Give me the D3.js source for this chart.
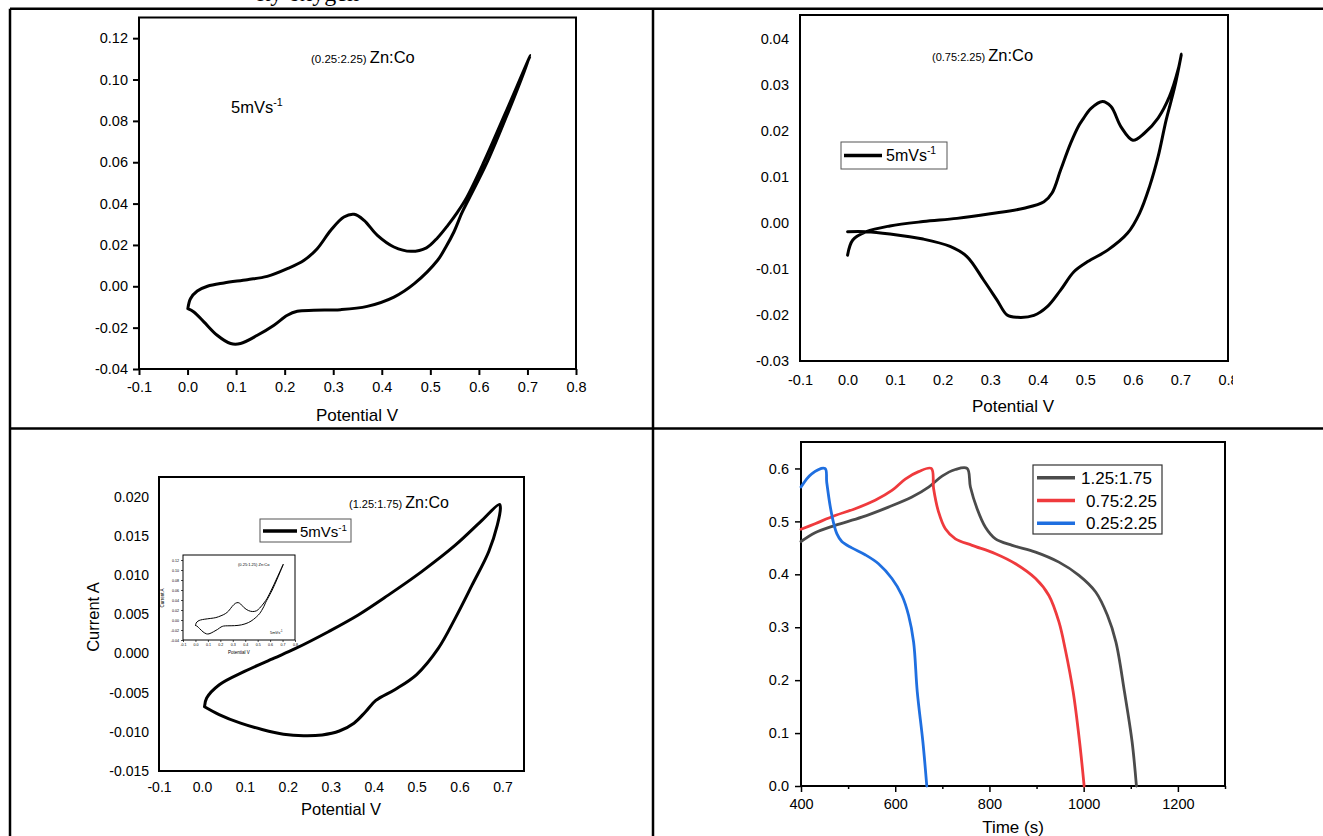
<!DOCTYPE html>
<html><head><meta charset="utf-8">
<script src="https://cdn.jsdelivr.net/npm/d3@7"></script>
<style>
html,body{margin:0;padding:0;background:#fff;}
svg{display:block;font-family:"Liberation Sans",Arial,sans-serif;}
</style></head>
<body>
<svg id="chart" width="1323" height="836"></svg>
<script>
// ---------- DATA ----------
// Top-left CV (0.25:2.25) Zn:Co
const tlPotential = [0.0006,0.006,0.020,0.041,0.075,0.123,0.164,0.2055,0.240,0.267,0.295,0.322,0.343,0.3635,0.391,0.425,0.46,0.492,0.515,0.536,0.556,0.575,0.61,0.655,0.706,
  0.66,0.617,0.58,0.565,0.549,0.532,0.515,0.467,0.425,0.370,0.315,0.260,0.226,0.2055,0.178,0.1437,0.109,0.0887,0.061,0.0336,0.013,0.0006];
const tlCurrent = [-0.0108,-0.006,-0.0023,0.0,0.0016,0.0032,0.0048,0.0085,0.0126,0.0182,0.0271,0.0335,0.0348,0.0319,0.0246,0.019,0.0169,0.0186,0.0235,0.0295,0.0359,0.0430,0.060,0.084,0.1116,
  0.084,0.060,0.0425,0.0355,0.0265,0.019,0.0126,0.0013,-0.0052,-0.0097,-0.0113,-0.0116,-0.0121,-0.014,-0.0188,-0.0237,-0.0277,-0.0277,-0.0237,-0.0172,-0.0124,-0.0108];
const tlXTicks = [-0.1,0.0,0.1,0.2,0.3,0.4,0.5,0.6,0.7,0.8];
const tlYTicks = [-0.04,-0.02,0.00,0.02,0.04,0.06,0.08,0.10,0.12];

// Top-right CV (0.75:2.25) Zn:Co
const trPotential = [0,0.011,0.0395,0.089,0.159,0.23,0.30,0.371,0.413,0.43,0.448,0.469,0.487,0.494,0.512,0.536,0.554,0.575,0.60,0.624,0.653,0.677,0.695,0.702,
  0.688,0.670,0.653,0.635,0.614,0.589,0.547,0.505,0.476,0.448,0.42,0.392,0.357,0.3355,0.314,0.286,0.251,0.2156,0.159,0.089,0.0395,0];
const trCurrent = [-0.007,-0.0037,-0.0019,-0.00065,0.0003,0.001,0.002,0.0032,0.0046,0.0065,0.0115,0.0173,0.0213,0.0224,0.0249,0.0264,0.0253,0.0209,0.018,0.0195,0.0228,0.0275,0.0333,0.0367,
  0.0296,0.0224,0.0144,0.0079,0.0021,-0.0022,-0.0059,-0.0084,-0.0106,-0.0146,-0.0182,-0.0201,-0.0205,-0.020,-0.0167,-0.0124,-0.0073,-0.0051,-0.0035,-0.0024,-0.0019,-0.0019];
const trXTicks = [-0.1,0.0,0.1,0.2,0.3,0.4,0.5,0.6,0.7,0.8];
const trYTicks = [-0.03,-0.02,-0.01,0.00,0.01,0.02,0.03,0.04];

// Bottom-left CV (1.25:1.75) Zn:Co
const blPotential = [0.006,0.011,0.0405,0.099,0.168,0.217,0.2955,0.364,0.433,0.511,0.59,0.649,0.693,
  0.695,0.688,0.668,0.629,0.59,0.55,0.50,0.45,0.405,0.38,0.354,0.32,0.28,0.2367,0.19,0.14,0.09,0.04,0.006];
const blCurrent = [-0.0068,-0.0057,-0.004,-0.0023,-0.0006,0.0006,0.0028,0.0049,0.0074,0.0104,0.0138,0.0168,0.019,
  0.0185,0.0164,0.013,0.0087,0.0045,0.0006,-0.0027,-0.0046,-0.0060,-0.0075,-0.0089,-0.0099,-0.0104,-0.0105,-0.0103,-0.0097,-0.0089,-0.0078,-0.0068];
const blXTicks = [-0.1,0.0,0.1,0.2,0.3,0.4,0.5,0.6,0.7];
const blYTicks = [-0.015,-0.010,-0.005,0.000,0.005,0.010,0.015,0.020];

// Bottom-right GCD
const gcdNames = ["1.25:1.75","0.75:2.25","0.25:2.25"];
const gcdColors = ["#4b4b4b","#ef3a3d","#1f6fe0"];
const gcdTime125 = [400,429.8,472.3,529.1,585.7,635.5,670.9,699.4,727.7,752.6,759.6,773.8,791.5,812.8,848.3,897.9,947.5,990,1025.5,1050.4,1068.5,1086.6,1102.8,1112];
const gcdVolt125 = [0.462,0.4787,0.4925,0.508,0.527,0.546,0.5647,0.5855,0.598,0.6,0.565,0.524,0.489,0.467,0.4547,0.442,0.423,0.398,0.3666,0.3226,0.272,0.178,0.0836,0];
const gcdTime075 = [400,429.8,472.3,514.9,557.4,593,621.3,649.6,676.6,681.5,692.1,706.4,727.7,763.2,812.8,855.3,897.9,926.2,947.5,961,977.7,991.3,1001];
const gcdVolt075 = [0.485,0.4956,0.511,0.524,0.54,0.5585,0.58,0.594,0.6,0.5617,0.5175,0.486,0.467,0.4547,0.439,0.42,0.392,0.36,0.31,0.258,0.178,0.0836,0];
const gcdTime025 = [400,422.7,451,454.6,461.7,468.7,476,486.6,507.9,536.2,564.5,593,614.3,628.3,639,646.8,658.7,667];
const gcdVolt025 = [0.565,0.59,0.6,0.574,0.53,0.4987,0.477,0.462,0.45,0.437,0.42,0.392,0.36,0.3226,0.272,0.178,0.0836,0];
const brXTicks = [400,600,800,1000,1200];
const brXMinor = [500,700,900,1100,1300];
const brYTicks = [0.0,0.1,0.2,0.3,0.4,0.5,0.6];

// ---------- DRAW ----------
const svg = d3.select("#chart");
const fmt = p => d => d3.format(p)(d).replace("\u2212","-");
const zip = (a,b) => a.map((v,i)=>[v,b[i]]);
const smooth = d3.curveCatmullRom.alpha(0.5);

// partial caption text at very top (only descenders visible, as in the reference)
svg.append("text").attr("x",257).attr("y",0.5).attr("font-family","Liberation Serif, Times New Roman, serif")
  .attr("font-size",24).text("ity oxygen");

// table lines
const tbl = svg.append("g").attr("stroke","#000").attr("stroke-width",2.5);
tbl.append("line").attr("x1",10).attr("x2",1323).attr("y1",8.7).attr("y2",8.7);
tbl.append("line").attr("x1",10).attr("x2",10).attr("y1",8.7).attr("y2",836);
tbl.append("line").attr("x1",653).attr("x2",653).attr("y1",8.7).attr("y2",836);
tbl.append("line").attr("x1",10).attr("x2",1323).attr("y1",428.5).attr("y2",428.5);

function panel(c){
  const g = svg.append("g");
  const x = d3.scaleLinear().domain(c.xDomain).range([c.left,c.right]);
  const y = d3.scaleLinear().domain(c.yDomain).range([c.bottom,c.top]);
  const ya = g.append("g").attr("transform",`translate(${c.left},0)`)
    .call(d3.axisLeft(y).tickValues(c.yTicks).tickFormat(c.yFmt).tickSize(c.tick).tickPadding(c.yPad));
  const xa = g.append("g").attr("transform",`translate(0,${c.bottom})`)
    .call(d3.axisBottom(x).tickValues(c.xTicks).tickFormat(c.xFmt).tickSize(c.tick).tickPadding(c.xPad));
  if (c.xMinor) {
    g.append("g").attr("transform",`translate(0,${c.bottom})`)
      .call(d3.axisBottom(x).tickValues(c.xMinor).tickFormat("").tickSize(c.minorTick))
      .call(s=>s.select(".domain").remove())
      .selectAll("line").attr("stroke","#000").attr("stroke-width",c.tickW);
  }
  [ya,xa].forEach(a=>{
    a.select(".domain").remove();
    a.selectAll("line").attr("stroke","#000").attr("stroke-width",c.tickW);
    a.selectAll("text").attr("font-size",c.fs).attr("fill","#000")
      .attr("font-family","Liberation Sans, Arial, sans-serif");
  });
  if (c.clipRight) {
    const id = "clip"+Math.round(c.left);
    svg.append("clipPath").attr("id",id).append("rect").attr("x",0).attr("y",0).attr("width",c.clipRight).attr("height",836);
    xa.attr("clip-path",`url(#${id})`);
  }
  g.append("rect").attr("x",c.left).attr("y",c.top).attr("width",c.right-c.left).attr("height",c.bottom-c.top)
    .attr("fill","none").attr("stroke","#000").attr("stroke-width",c.frameW);
  return {g,x,y};
}

function curve(p, xs, ys, color, w){
  p.g.append("path").datum(zip(xs,ys))
    .attr("d", d3.line().x(d=>p.x(d[0])).y(d=>p.y(d[1])).curve(smooth))
    .attr("fill","none").attr("stroke",color).attr("stroke-width",w)
    .attr("stroke-linejoin","round").attr("stroke-linecap","round");
}

function label(g, x, y, txt, fs, anchor){
  return g.append("text").attr("x",x).attr("y",y).attr("font-size",fs)
    .attr("text-anchor",anchor||"start").attr("fill","#000").text(txt);
}
function sup(g, x, y, base, s, fs){
  const t = g.append("text").attr("x",x).attr("y",y).attr("font-size",fs).attr("fill","#000");
  t.append("tspan").text(base);
  t.append("tspan").attr("font-size",fs*0.65).attr("dy",-fs*0.42).text(s);
  return t;
}

// ---- Top-left ----
const tl = panel({left:139,right:576,top:17.5,bottom:369,xDomain:[-0.1,0.8],yDomain:[-0.04,0.13],
  xTicks:tlXTicks,yTicks:tlYTicks,xFmt:fmt(".1f"),yFmt:fmt(".2f"),tick:6,tickW:2,yPad:5,xPad:7,fs:14.5,frameW:2});
curve(tl, tlPotential, tlCurrent, "#000", 3);
const t1 = tl.g.append("text").attr("x",311).attr("y",63).attr("fill","#000");
t1.append("tspan").attr("font-size",11.5).text("(0.25:2.25) ");
t1.append("tspan").attr("font-size",16.5).text("Zn:Co");
sup(tl.g, 231, 113, "5mVs", "-1", 16.5);
label(tl.g, 357, 421, "Potential V", 17, "middle");

// ---- Top-right ----
const tr = panel({left:800,right:1228,top:15,bottom:361,xDomain:[-0.1,0.8],yDomain:[-0.03,0.0452],
  xTicks:trXTicks,yTicks:trYTicks,xFmt:fmt(".1f"),yFmt:fmt(".2f"),tick:0,tickW:0,yPad:11,xPad:14,fs:14.5,frameW:2,clipRight:1233});
curve(tr, trPotential, trCurrent, "#000", 3);
const t2 = tr.g.append("text").attr("x",932).attr("y",61).attr("fill","#000");
t2.append("tspan").attr("font-size",11).text("(0.75:2.25) ");
t2.append("tspan").attr("font-size",16.5).text("Zn:Co");
tr.g.append("rect").attr("x",841).attr("y",142).attr("width",106).attr("height",27)
  .attr("fill","#fff").attr("stroke","#555").attr("stroke-width",1);
tr.g.append("line").attr("x1",844).attr("x2",882).attr("y1",155.5).attr("y2",155.5).attr("stroke","#000").attr("stroke-width",3.5);
sup(tr.g, 886, 161, "5mVs", "-1", 16);
label(tr.g, 1013, 412, "Potential V", 17, "middle");

// ---- Bottom-left ----
const bl = panel({left:159,right:524,top:477,bottom:771,xDomain:[-0.1,0.75],yDomain:[-0.015,0.0225],
  xTicks:blXTicks,yTicks:blYTicks,xFmt:fmt(".1f"),yFmt:fmt(".3f"),tick:0,tickW:0,yPad:10,xPad:11,fs:14,frameW:2});
curve(bl, blPotential, blCurrent, "#000", 3);
const t3 = bl.g.append("text").attr("x",349).attr("y",508).attr("fill","#000");
t3.append("tspan").attr("font-size",11).text("(1.25:1.75) ");
t3.append("tspan").attr("font-size",16).text("Zn:Co");
bl.g.append("rect").attr("x",260).attr("y",519).attr("width",91).attr("height",23)
  .attr("fill","#fff").attr("stroke","#555").attr("stroke-width",1);
bl.g.append("line").attr("x1",263).attr("x2",297).attr("y1",531).attr("y2",531).attr("stroke","#000").attr("stroke-width",3.5);
sup(bl.g, 300, 537, "5mVs", "-1", 15);
label(bl.g, 341, 815, "Potential V", 16.5, "middle");
bl.g.append("text").attr("transform","translate(98.5,617) rotate(-90)").attr("text-anchor","middle")
  .attr("font-size",16.5).attr("fill","#000").text("Current A");

// inset (copy of the 0.25:2.25 CV)
const ins = panel({left:183,right:295,top:555,bottom:640,xDomain:[-0.1,0.8],yDomain:[-0.04,0.13],
  xTicks:tlXTicks,yTicks:tlYTicks,xFmt:fmt(".1f"),yFmt:fmt(".2f"),tick:2,tickW:0.7,yPad:2,xPad:1.5,fs:3.6,frameW:1});
curve(ins, tlPotential, tlCurrent, "#000", 1);
label(ins.g, 238, 566, "(0.25:1.25) Zn:Co", 4, "start");
sup(ins.g, 270, 634, "5mVs", "-1", 4);
label(ins.g, 239, 654, "Potential V", 4.5, "middle");
ins.g.append("text").attr("transform","translate(164,598) rotate(-90)").attr("text-anchor","middle")
  .attr("font-size",4.5).attr("fill","#000").text("Current A");

// ---- Bottom-right GCD ----
const br = panel({left:801,right:1225,top:442,bottom:786,xDomain:[400,1300],yDomain:[0,0.65],
  xTicks:brXTicks,yTicks:brYTicks,xMinor:brXMinor,minorTick:3,xFmt:fmt("d"),yFmt:fmt(".1f"),tick:6,tickW:1.5,yPad:6,xPad:7,fs:14.5,frameW:2});
const gcd = [[gcdTime125,gcdVolt125],[gcdTime075,gcdVolt075],[gcdTime025,gcdVolt025]];
gcd.forEach((s,i)=>curve(br, s[0], s[1], gcdColors[i], 2.8));
br.g.append("rect").attr("x",1033).attr("y",465).attr("width",129).attr("height",69)
  .attr("fill","#fff").attr("stroke","#333").attr("stroke-width",1.2);
gcdNames.forEach((n,i)=>{
  const yy = 477.7 + i*22.8;
  br.g.append("line").attr("x1",1037).attr("x2",1075).attr("y1",yy).attr("y2",yy)
    .attr("stroke",gcdColors[i]).attr("stroke-width",3.5);
  label(br.g, i===0?1081:1086, yy+6, n, 17, "start");
});
label(br.g, 1013, 833, "Time (s)", 17, "middle");
</script>
</body></html>
